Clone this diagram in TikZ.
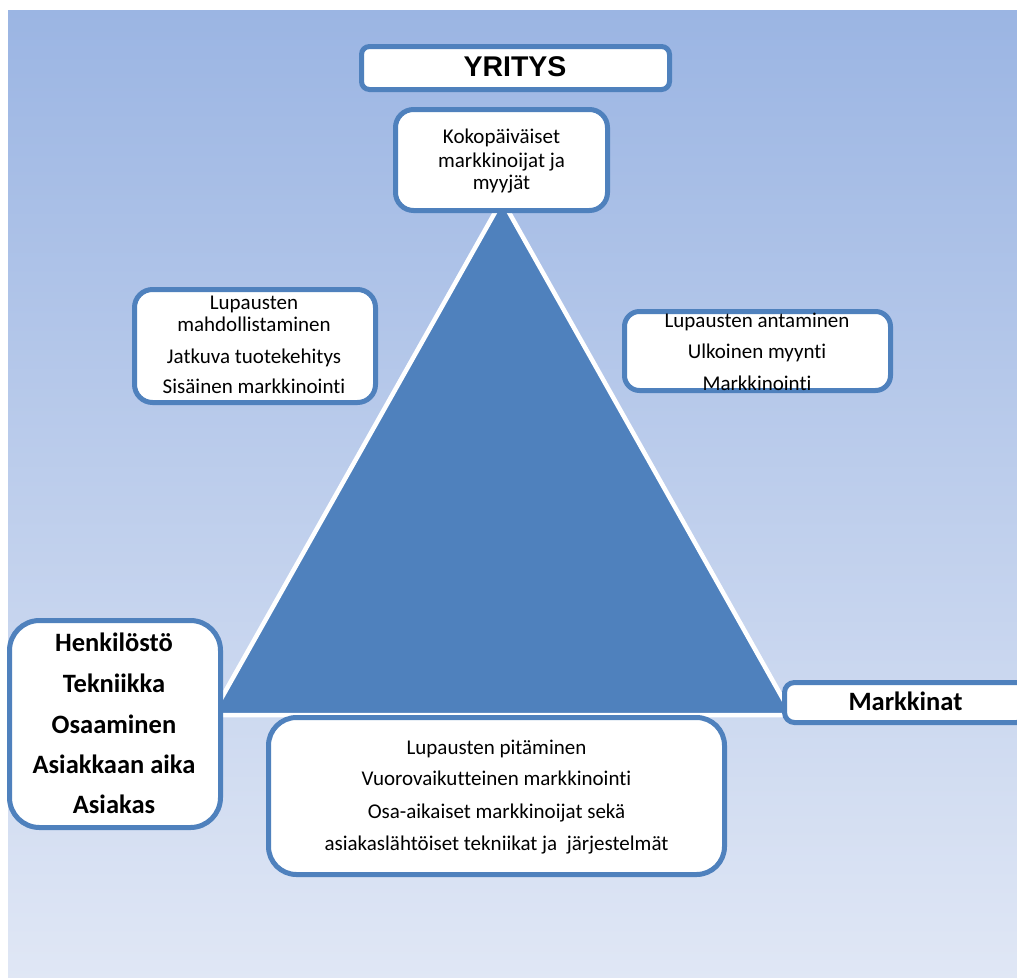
\documentclass[tikz,border=0pt]{standalone}
\usepackage{fontspec}
\setmainfont{Carlito}[Ligatures=NoCommon]
\newfontfamily\arialfont{Liberation Sans}
\definecolor{bgtop}{RGB}{155,181,227}
\definecolor{bgbot}{RGB}{224,231,245}
\definecolor{boxblue}{RGB}{79,129,189}
\definecolor{trifill}{RGB}{79,129,189}
\tikzset{
  box/.style={draw=boxblue, line width=5pt, fill=white, inner sep=0pt, outer sep=0pt},
  small/.style={anchor=base, inner sep=0pt, font=\fontsize{21}{24}\selectfont},
  big/.style={anchor=base, inner sep=0pt, font=\fontsize{26.5}{30}\selectfont\bfseries},
  title/.style={anchor=base, inner sep=0pt, font=\arialfont\fontsize{28.5}{32}\selectfont\bfseries},
}
\begin{document}
\begin{tikzpicture}[x=1pt,y=-1pt]
\useasboundingbox (0,0) rectangle (1017,977);
\clip (0,0) rectangle (1017,977);
% background
\shade[top color=bgtop, bottom color=bgbot] (8,10) rectangle (1030,980);
% triangle
\coordinate (apex) at (502,200);
\coordinate (bl) at (212,715);
\coordinate (br) at (792,715);
\draw[white, line width=4.5pt, fill=trifill, line join=miter] (apex) -- (br) -- (bl) -- cycle;
% boxes
\node[box, rounded corners=8pt, minimum width=308pt, minimum height=43pt] (yritys) at (515.5,68) {};
\node[box, rounded corners=18pt, minimum width=212pt, minimum height=101pt] (koko) at (501.5,160) {};
\node[box, rounded corners=18pt, minimum width=241pt, minimum height=113pt] (lmid) at (255,346) {};
\node[box, rounded corners=15pt, minimum width=266pt, minimum height=79pt] (rmid) at (757.5,351) {};
\node[box, rounded corners=30pt, minimum width=211pt, minimum height=207pt] (lbot) at (115,724) {};
\node[box, rounded corners=10pt, minimum width=242pt, minimum height=40pt] (mark) at (905.5,702.5) {};
\node[box, rounded corners=28pt, minimum width=456pt, minimum height=157pt] (bot) at (496.5,796) {};
% texts
\node[title] (tyr) at (515,76) {YRITYS};
\node[small] (tk1) at (501.5,143) {Kokopäiväiset};
\node[small] (tk2) at (501.5,167) {markkinoijat ja};
\node[small] (tk3) at (501.5,189) {myyjät};
\node[small] (tl1) at (254,309) {Lupausten};
\node[small] (tl2) at (254,331) {mahdollistaminen};
\node[small] (tl3) at (254,363) {Jatkuva tuotekehitys};
\node[small] (tl4) at (254,393) {Sisäinen markkinointi};
\node[small] (tr1) at (757,327) {Lupausten antaminen};
\node[small] (tr2) at (757,358) {Ulkoinen myynti};
\node[small] (tr3) at (757,390) {Markkinointi};
\node[big] (tb1) at (114,651) {Henkilöstö};
\node[big] (tb2) at (114,692) {Tekniikka};
\node[big] (tb3) at (114,733) {Osaaminen};
\node[big] (tb4) at (114,773) {Asiakkaan aika};
\node[big] (tb5) at (114,813) {Asiakas};
\node[big] (tm) at (905.5,710) {Markkinat};
\node[small] (tc1) at (496.5,754) {Lupausten pitäminen};
\node[small] (tc2) at (496.5,785) {Vuorovaikutteinen markkinointi};
\node[small] (tc3) at (496.5,818) {Osa-aikaiset markkinoijat sekä};
\node[small] (tc4) at (496.5,850) {asiakaslähtöiset tekniikat ja\ \ järjestelmät};
\end{tikzpicture}
\end{document}
